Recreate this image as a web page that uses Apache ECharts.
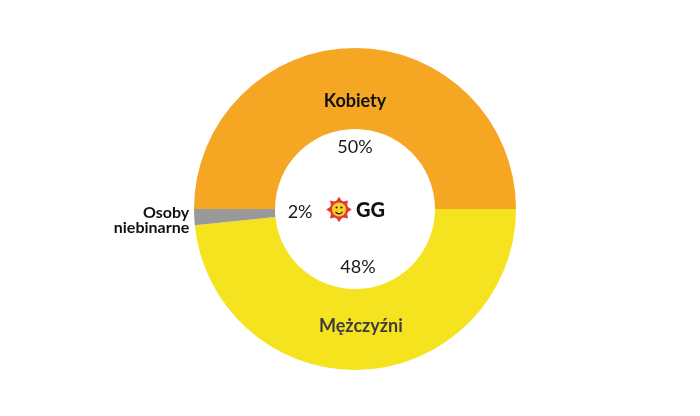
<!DOCTYPE html>
<html>
<head>
<meta charset="utf-8">
<script src="https://cdn.jsdelivr.net/npm/echarts@6/dist/echarts.min.js"></script>
<style>
html,body{margin:0;padding:0;background:#fff;}
#chart{width:700px;height:416px;}
</style>
</head>
<body>
<div id="chart"></div>
<script>
// ---- data ----
const categories = ['Kobiety', 'Mężczyźni', 'Osoby niebinarne'];
const values = [50, 48.4, 1.6];
const nameLabels = ['Kobiety', 'Mężczyźni', 'Osoby\nniebinarne'];
const colors = ['#F5A623', '#F6E31F', '#999999'];

const chart = echarts.init(document.getElementById('chart'), null, {renderer: 'canvas'});
const CX = 355, CY = 209;

function seriesData(extra) {
  return categories.map((c, i) => Object.assign({name: c, value: values[i]}, extra ? extra(i) : {}));
}

// invisible ring used only to place one label of item idx at radius rad
function labelRing(idx, rad, labelStyle) {
  return {
    type: 'pie', center: [CX, CY], radius: [rad - 8, rad + 8], startAngle: 180, clockwise: true,
    silent: true, avoidLabelOverlap: false,
    itemStyle: {color: 'rgba(0,0,0,0)'},
    labelLine: {show: false},
    data: seriesData(i => ({
      label: Object.assign({show: i === idx, position: 'inside'}, labelStyle)
    }))
  };
}

const pctLabel = {
  formatter: p => Math.round(p.percent) + '%',
  fontFamily: 'Lato', fontSize: 18, color: '#1a1a1a'
};

// logo (decoration)
const sunCx = 339, sunCy = 209.5;
const starPts = [];
for (let k = 0; k < 16; k++) {
  const a = Math.PI * 2 * k / 16 - Math.PI / 2;
  const rr = (k % 2 === 0) ? 12.8 : 8.5;
  starPts.push([sunCx + rr * Math.cos(a), sunCy + rr * Math.sin(a)]);
}

const osobyText = {fontFamily: 'Lato', fontWeight: 'bold', fontSize: 16, color: '#111', lineHeight: 15, align: 'right'};

const option = {
  animation: false,
  backgroundColor: '#ffffff',
  series: [
    {
      type: 'pie',
      center: [CX, CY],
      radius: [80, 161],
      startAngle: 180,
      clockwise: true,
      avoidLabelOverlap: false,
      silent: true,
      label: {show: false},
      labelLine: {show: false},
      data: seriesData(i => ({
        itemStyle: {color: colors[i]},
        label: i === 2 ? {
          show: true, position: 'outside',
          formatter: '{s|}\n' + nameLabels[i].split('\n').map(t => '{a|' + t + '}').join('\n'),
          align: 'right', distanceToLabelLine: 4,
          rich: {s: {lineHeight: 6, height: 6, fontSize: 6}, a: osobyText}
        } : {show: false},
        labelLine: i === 2 ? {show: false, length: 1, length2: 0} : {show: false}
      }))
    },
    labelRing(0, 105, {formatter: nameLabels[0], fontFamily: 'Lato', fontWeight: 'bold', fontSize: 18, color: '#111'}),
    labelRing(1, 114, {formatter: nameLabels[1], fontFamily: 'Lato', fontWeight: 'bold', fontSize: 18, color: '#3d3d3d'}),
    labelRing(0, 58.5, pctLabel),
    labelRing(1, 55.5, pctLabel),
    labelRing(2, 52, pctLabel)
  ],
  graphic: [
    {type: 'polygon', shape: {points: starPts}, style: {fill: '#E53935'}, silent: true},
    {type: 'circle', shape: {cx: sunCx, cy: sunCy, r: 9.2}, style: {fill: '#E53935'}, silent: true},
    {type: 'circle', shape: {cx: sunCx, cy: sunCy, r: 7}, style: {fill: '#FAD125'}, silent: true},
    {type: 'circle', shape: {cx: sunCx - 2.4, cy: sunCy - 2, r: 1.1}, style: {fill: '#222'}, silent: true},
    {type: 'circle', shape: {cx: sunCx + 2.4, cy: sunCy - 2, r: 1.1}, style: {fill: '#222'}, silent: true},
    {type: 'arc', shape: {cx: sunCx, cy: sunCy + 0.5, r: 3.8, startAngle: Math.PI * 0.15, endAngle: Math.PI * 0.85},
      style: {stroke: '#222', lineWidth: 1.3, fill: null}, silent: true},
    {type: 'text', x: 356, y: 210.5, silent: true,
      style: {text: 'GG', fontFamily: 'Lato', fontWeight: 900, fontSize: 20, fill: '#111',
        align: 'left', verticalAlign: 'middle'}}
  ]
};
chart.setOption(option);
</script>
</body>
</html>
